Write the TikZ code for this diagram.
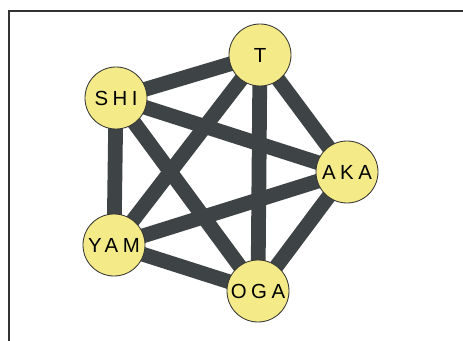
\documentclass[tikz,border=0pt]{standalone}
\usepackage{fontspec}
\newfontfamily\labelfont[LetterSpace=22]{Liberation Sans}
\usetikzlibrary{backgrounds}
\definecolor{linkgray}{HTML}{3E4446}
\definecolor{nodeyellow}{HTML}{F4EB88}
\begin{document}
\begin{tikzpicture}[
		x=0.025cm, y=-0.025cm,
		person/.style={circle, draw=black!80, line width=0.6pt, fill=nodeyellow, minimum size=1.55cm, inner sep=0pt, font=\labelfont\fontsize{14.5}{14.5}\selectfont},
		link/.style={draw=linkgray, line width=10.5pt}
	]
	\useasboundingbox (0,0) rectangle (463,341);
	\clip (0,0) rectangle (463,341);
	% outer frame
	\draw[line width=1.3pt, black!80] (9,11) rectangle (480,360);

	% members
	\node[person] (T) at (260,55) {T};
	\node[person] (SHI) at (116,98) {SHI};
	\node[person] (AKA) at (347,172) {AKA};
	\node[person] (YAM) at (114,245) {YAM};
	\node[person] (OGA) at (258,291) {OGA};

	% every pair is linked
	\begin{pgfonlayer}{background}
		\foreach \a/\b in {T/SHI, T/AKA, T/OGA, T/YAM, SHI/AKA, SHI/YAM, SHI/OGA, AKA/YAM, AKA/OGA, YAM/OGA}
			\path[link] (\a.center) -- (\b.center);
	\end{pgfonlayer}
\end{tikzpicture}
\end{document}
